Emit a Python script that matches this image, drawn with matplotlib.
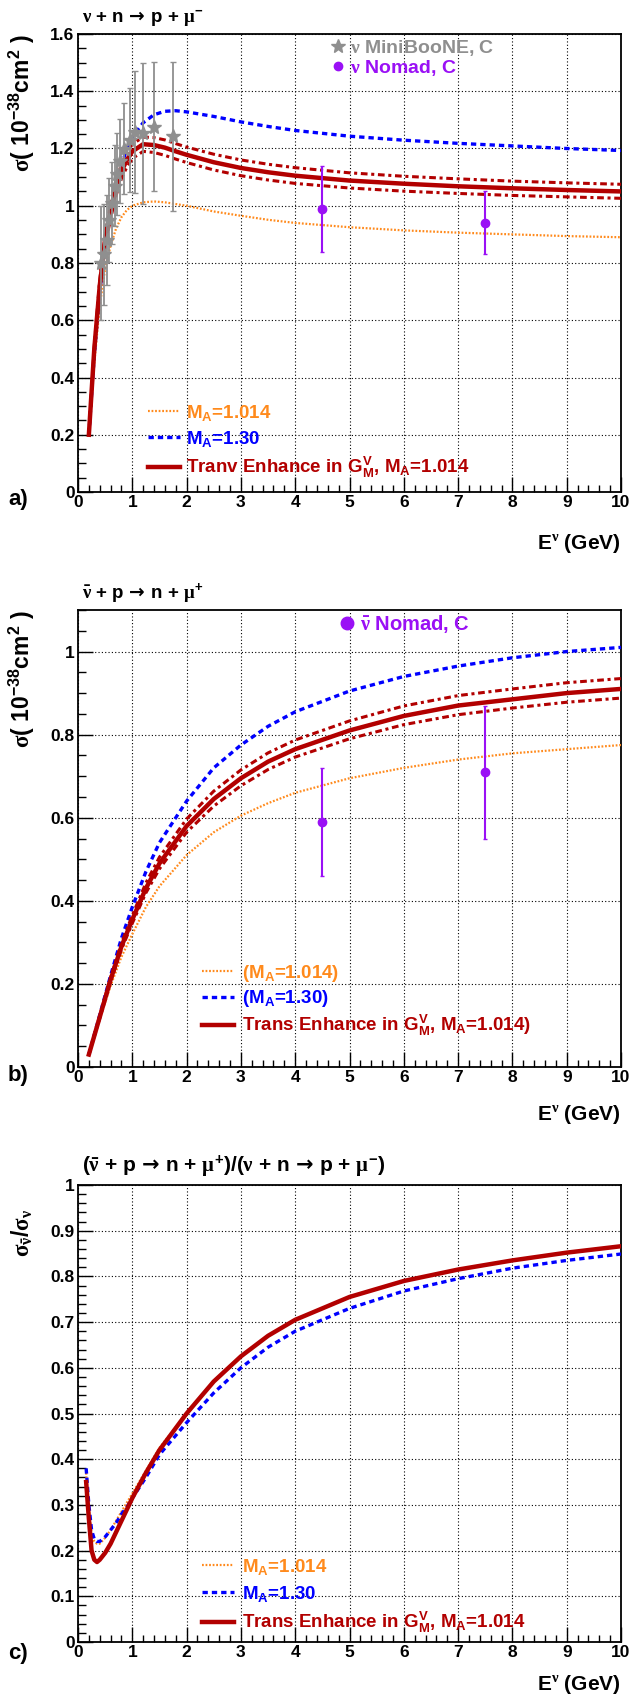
import numpy as np
import matplotlib
matplotlib.use('Agg')
from matplotlib import pyplot as plt
from matplotlib.lines import Line2D
from matplotlib.ticker import MultipleLocator, FormatStrFormatter

plt.rcParams['font.family'] = ['Liberation Sans', 'DejaVu Sans']
plt.rcParams['font.weight'] = 'bold'
plt.rcParams['mathtext.fontset'] = 'custom'
plt.rcParams['mathtext.default'] = 'rm'
plt.rcParams['mathtext.rm'] = 'Liberation Sans:bold'
plt.rcParams['mathtext.bf'] = 'Liberation Sans:bold'
plt.rcParams['mathtext.sf'] = 'DejaVu Sans'
plt.rcParams['mathtext.it'] = 'Liberation Serif'

ORANGE = '#ff8a1c'
BLUE = '#0000ff'
DRED = '#b20000'
GRAY = '#8f8f8f'
PURPLE = '#9a10f5'

# ---- a) nu + n -> p + mu-
E_a = [0.2, 0.3, 0.4, 0.5, 0.6, 0.7, 0.8, 0.9, 1.0, 1.2, 1.4, 1.6, 1.8, 2.0,
       2.5, 3.0, 3.5, 4.0, 5.0, 6.0, 7.0, 8.0, 9.0, 10.0]
a_ma1014 = [0.2, 0.45, 0.65, 0.78, 0.86, 0.92, 0.96, 0.985, 1.0, 1.012, 1.015, 1.012, 1.006, 1.0,
            0.98, 0.965, 0.951, 0.94, 0.925, 0.914, 0.906, 0.9, 0.894, 0.89]
a_ma130 = [0.2, 0.48, 0.7, 0.86, 0.98, 1.07, 1.14, 1.2, 1.24, 1.29, 1.318, 1.33, 1.332, 1.328,
           1.312, 1.293, 1.277, 1.263, 1.243, 1.229, 1.218, 1.209, 1.2, 1.193]
a_tran = [0.2, 0.5, 0.72, 0.88, 0.98, 1.06, 1.12, 1.16, 1.19, 1.215, 1.212, 1.203, 1.19, 1.178,
          1.152, 1.132, 1.117, 1.105, 1.088, 1.077, 1.068, 1.061, 1.055, 1.05]
a_tran_up = [0.2, 0.51, 0.74, 0.9, 1.005, 1.085, 1.145, 1.185, 1.215, 1.24, 1.238, 1.23, 1.217, 1.205,
             1.18, 1.16, 1.145, 1.133, 1.115, 1.103, 1.094, 1.086, 1.08, 1.075]
a_tran_lo = [0.2, 0.49, 0.7, 0.86, 0.955, 1.035, 1.095, 1.135, 1.165, 1.19, 1.186, 1.176, 1.163, 1.151,
             1.125, 1.105, 1.09, 1.078, 1.062, 1.051, 1.043, 1.036, 1.031, 1.026]

mb_E = [0.425, 0.475, 0.525, 0.575, 0.625, 0.675, 0.725, 0.775, 0.85, 0.95, 1.05, 1.2, 1.4, 1.75]
mb_sig = [0.80, 0.83, 0.88, 0.95, 1.01, 1.07, 1.11, 1.155, 1.20, 1.23, 1.257, 1.253, 1.276, 1.242]
mb_err = [0.20, 0.175, 0.156, 0.148, 0.144, 0.142, 0.144, 0.147, 0.159, 0.182, 0.214, 0.247, 0.225, 0.26]

nomad_E = [4.5, 7.5]
nomad_nu = [0.99, 0.94]
nomad_nu_err = [0.15, 0.11]

# ---- b) nubar + p -> n + mu+
E_b = [0.2, 0.4, 0.6, 0.8, 1.0, 1.25, 1.5, 2.0, 2.5, 3.0, 3.5, 4.0, 5.0, 6.0, 7.0, 8.0, 9.0, 10.0]
b_ma1014 = [0.03, 0.115, 0.195, 0.265, 0.32, 0.385, 0.435, 0.51, 0.565, 0.605, 0.635, 0.66,
            0.695, 0.72, 0.74, 0.755, 0.765, 0.775]
b_ma130 = [0.03, 0.125, 0.22, 0.31, 0.385, 0.47, 0.54, 0.64, 0.72, 0.775, 0.82, 0.855,
           0.905, 0.94, 0.965, 0.985, 1.0, 1.01]
b_tran = [0.03, 0.12, 0.21, 0.29, 0.355, 0.43, 0.49, 0.58, 0.645, 0.695, 0.735, 0.765,
          0.81, 0.845, 0.87, 0.885, 0.9, 0.91]
b_tran_up = [0.03, 0.123, 0.216, 0.298, 0.365, 0.443, 0.505, 0.597, 0.664, 0.715, 0.756, 0.787,
             0.833, 0.869, 0.894, 0.91, 0.925, 0.935]
b_tran_lo = [0.03, 0.117, 0.205, 0.283, 0.346, 0.419, 0.477, 0.565, 0.628, 0.677, 0.716, 0.746,
             0.79, 0.824, 0.848, 0.864, 0.878, 0.888]
nomad_nubar = [0.59, 0.71]
nomad_nubar_err = [0.13, 0.16]

# ---- c) ratio
E_c = [0.15, 0.2, 0.25, 0.3, 0.35, 0.4, 0.5, 0.6, 0.7, 0.8, 0.9, 1.0, 1.25, 1.5,
       2.0, 2.5, 3.0, 3.5, 4.0, 5.0, 6.0, 7.0, 8.0, 9.0, 10.0]
c_ma1014 = [0.37, 0.29, 0.24, 0.22, 0.215, 0.215, 0.228, 0.245, 0.265, 0.285, 0.305, 0.325, 0.375, 0.425,
            0.5, 0.57, 0.625, 0.67, 0.705, 0.755, 0.79, 0.815, 0.835, 0.852, 0.866]
c_ma130 = [0.38, 0.3, 0.245, 0.225, 0.22, 0.22, 0.23, 0.245, 0.26, 0.28, 0.295, 0.315, 0.36, 0.41,
           0.48, 0.545, 0.6, 0.645, 0.68, 0.73, 0.768, 0.795, 0.818, 0.835, 0.849]
c_tran = [0.35, 0.27, 0.2, 0.18, 0.175, 0.18, 0.195, 0.215, 0.24, 0.265, 0.29, 0.315, 0.37, 0.42,
          0.5, 0.57, 0.625, 0.67, 0.705, 0.755, 0.79, 0.815, 0.835, 0.852, 0.866]

NU = r'\mathit{\nu}'
NUBAR = r'\bar{\mathit{\nu}}'
MU = r'\mathit{\mu}'
ARR = r'$\,\mathsf{\rightarrow}\,$'
ylab = r'$\mathit{\sigma}$( 10$^{-38}$cm$^{2}$ )'
xlab = r'E$^{%s}$ (GeV)' % NU

fig = plt.figure(figsize=(6.33, 16.96), dpi=100)
W, H = 633.0, 1696.0
L, R = 78, 621
boxes = [(34, 492), (610, 1067), (1185, 1642)]
axes = []
for top, bot in boxes:
    axes.append(fig.add_axes([L / W, 1 - bot / H, (R - L) / W, (bot - top) / H]))


def style(ax, ymax, ymaj, ymin, xlab_y):
    ax.set_xlim(0, 10)
    ax.set_ylim(0, ymax)
    ax.xaxis.set_major_locator(MultipleLocator(1))
    ax.xaxis.set_minor_locator(MultipleLocator(0.2))
    ax.yaxis.set_major_locator(MultipleLocator(ymaj))
    ax.yaxis.set_minor_locator(MultipleLocator(ymin))
    ax.yaxis.set_major_formatter(FormatStrFormatter('%g'))
    ax.xaxis.set_major_formatter(FormatStrFormatter('%g'))
    ax.tick_params(which='both', direction='in', top=False, right=False, width=1)
    ax.tick_params(which='major', length=10.5, labelsize=12.5, pad=2.5)
    ax.tick_params(which='minor', length=5.4)
    ax.grid(True, which='major', color='k', lw=0.8, ls=(0, (1, 2)))
    for s in ax.spines.values():
        s.set_linewidth(1.3)
    for lab in ax.get_xticklabels() + ax.get_yticklabels():
        lab.set_fontweight('bold')
    ax.text(1.0, xlab_y, xlab, transform=ax.transAxes, ha='right', va='center', fontsize=15)


def curves(ax, E, y1, y2, y3, up=None, lo=None):
    h1, = ax.plot(E, y1, color=ORANGE, lw=1.6, dashes=(0.8, 0.8), zorder=3)
    h2, = ax.plot(E, y2, color=BLUE, lw=2.4, dashes=(1.6, 1.2), zorder=3)
    if up is not None:
        ax.plot(E, up, color=DRED, lw=2.2, dashes=(2.2, 1.2, 1.0, 1.2), zorder=3)
        ax.plot(E, lo, color=DRED, lw=2.2, dashes=(2.2, 1.2, 1.0, 1.2), zorder=3)
    h3, = ax.plot(E, y3, color=DRED, lw=3.2, zorder=4)
    return [h1, h2, h3]


# ---------------- panel a
ax = axes[0]
style(ax, 1.6, 0.2, 0.05, -0.112)
hs = curves(ax, E_a, a_ma1014, a_ma130, a_tran, a_tran_up, a_tran_lo)
ax.errorbar(mb_E, mb_sig, yerr=mb_err, fmt='*', color=GRAY, ms=10, elinewidth=1.3,
            capsize=2, zorder=5)
ax.errorbar(nomad_E, nomad_nu, yerr=nomad_nu_err, fmt='o', color=PURPLE, ms=6,
            elinewidth=1.5, capsize=1.5, zorder=5)
leg = ax.legend(hs, [r'M$_{A}$=1.014', r'M$_{A}$=1.30',
                     r'Tranv Enhance in G$_{M}^{V}$, M$_{A}$=1.014'],
                loc='upper left', bbox_to_anchor=((148 - L) / (R - L), (492 - 403) / 458.0),
                frameon=False, fontsize=13.5, labelcolor='linecolor', handlelength=1.7,
                handletextpad=0.35, borderpad=0, borderaxespad=0, labelspacing=0.32)
ax.add_artist(leg)
px = [Line2D([], [], marker='*', color=GRAY, ls='none', ms=10),
      Line2D([], [], marker='o', color=PURPLE, ls='none', ms=6)]
ax.legend(px, [r'$%s$ MiniBooNE, C' % NU, r'$%s$ Nomad, C' % NU],
          loc='upper left', bbox_to_anchor=((331 - L) / (R - L), (492 - 38) / 458.0),
          frameon=False, fontsize=14, labelcolor=[GRAY, PURPLE], handlelength=0.7,
          handletextpad=0.3, borderpad=0, borderaxespad=0, labelspacing=-0.02)
ax.text(0.008, 1.01, r'$%s$ + n%sp + $%s^{-}$' % (NU, ARR, MU), transform=ax.transAxes,
        ha='left', va='bottom', fontsize=13.5)
ax.text(-0.103, 1.0, ylab, transform=ax.transAxes, rotation=90, ha='center', va='top', fontsize=16.5)
fig.text(8 / W, 1 - 499 / H, 'a)', ha='left', va='center', fontsize=16)

# ---------------- panel b
ax = axes[1]
style(ax, 1.1, 0.2, 0.05, -0.104)
hs = curves(ax, E_b, b_ma1014, b_ma130, b_tran, b_tran_up, b_tran_lo)
ax.errorbar(nomad_E, nomad_nubar, yerr=nomad_nubar_err, fmt='o', color=PURPLE, ms=6,
            elinewidth=1.5, capsize=1.5, zorder=5)
leg = ax.legend(hs, [r'(M$_{A}$=1.014)', r'(M$_{A}$=1.30)',
                     r'Trans Enhance in G$_{M}^{V}$, M$_{A}$=1.014)'],
                loc='upper left', bbox_to_anchor=((202 - L) / (R - L), (1067 - 963) / 457.0),
                frameon=False, fontsize=13.5, labelcolor='linecolor', handlelength=1.7,
                handletextpad=0.45, borderpad=0, borderaxespad=0, labelspacing=0.22)
ax.add_artist(leg)
px = [Line2D([], [], marker='o', color=PURPLE, ls='none', ms=9)]
ax.legend(px, [r'$%s$ Nomad, C' % NUBAR],
          loc='upper left', bbox_to_anchor=((340 - L) / (R - L), (1067 - 613) / 457.0),
          frameon=False, fontsize=14.5, labelcolor=[PURPLE], handlelength=0.7,
          handletextpad=0.3, borderpad=0, borderaxespad=0)
ax.text(0.008, 1.01, r'$%s$ + p%sn + $%s^{+}$' % (NUBAR, ARR, MU), transform=ax.transAxes,
        ha='left', va='bottom', fontsize=13.5)
ax.text(-0.103, 1.0, ylab, transform=ax.transAxes, rotation=90, ha='center', va='top', fontsize=16.5)
fig.text(8 / W, 1 - 1076 / H, 'b)', ha='left', va='center', fontsize=16)

# ---------------- panel c
ax = axes[2]
style(ax, 1.0, 0.1, 0.02, -0.094)
hs = curves(ax, E_c, c_ma1014, c_ma130, c_tran)
ax.legend(hs, [r'M$_{A}$=1.014', r'M$_{A}$=1.30',
               r'Trans Enhance in G$_{M}^{V}$, M$_{A}$=1.014'],
          loc='upper left', bbox_to_anchor=((202 - L) / (R - L), (1642 - 1557) / 457.0),
          frameon=False, fontsize=13.5, labelcolor='linecolor', handlelength=1.7,
          handletextpad=0.45, borderpad=0, borderaxespad=0, labelspacing=0.35)
ax.text(0.008, 1.01, r'($%s$ + p%sn + $%s^{+}$)/($%s$ + n%sp + $%s^{-}$)'
        % (NUBAR, ARR, MU, NU, ARR, MU),
        transform=ax.transAxes, ha='left', va='bottom', fontsize=15)
ax.text(-0.103, 0.895, r'$\mathit{\sigma}_{%s}/\mathit{\sigma}_{%s}$' % (NUBAR, NU),
        transform=ax.transAxes, rotation=90, ha='center', va='center', fontsize=16.5)
fig.text(8 / W, 1 - 1653 / H, 'c)', ha='left', va='center', fontsize=16)

fig.savefig('out.png', dpi=100)
